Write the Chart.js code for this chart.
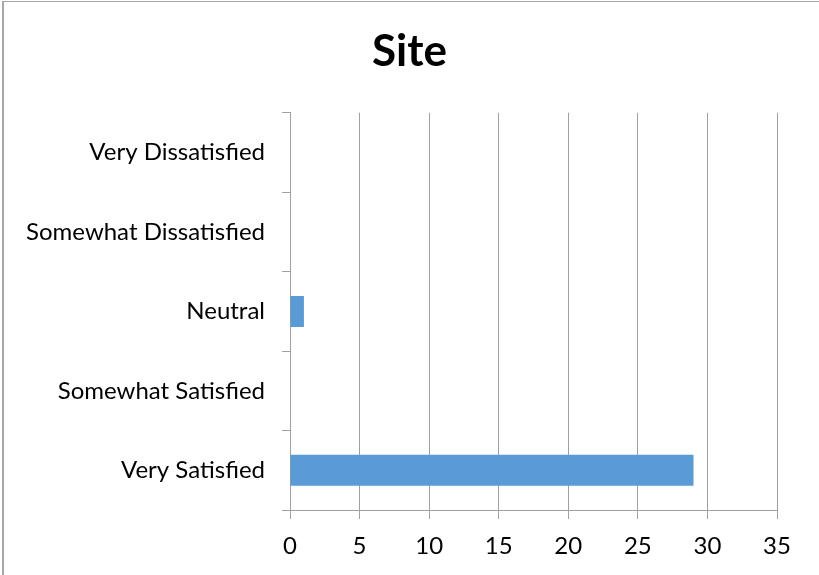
<!DOCTYPE html>
<html>
<head>
<meta charset="utf-8">
<script src="https://cdn.jsdelivr.net/npm/chart.js@4"></script>
<style>
  html, body { margin: 0; padding: 0; background: #fff; }
  #wrap { position: relative; width: 819px; height: 575px; overflow: hidden; }
  #frame { position: absolute; left: 2px; top: 1px; width: 900px; height: 700px;
           border-top: 1px solid #a6a6a6; border-left: 2px solid #a6a6a6; pointer-events: none; }
  canvas { position: absolute; left: 0; top: 0; }
</style>
</head>
<body>
<div id="wrap">
  <canvas id="chart" width="819" height="575"></canvas>
  <div id="frame"></div>
</div>
<script>
// Survey responses for "Site"
const chartTitle = 'Site';
const categories = ['Very Dissatisfied', 'Somewhat Dissatisfied', 'Neutral', 'Somewhat Satisfied', 'Very Satisfied'];
const responses = [0, 0, 1, 0, 29];
const xTicks = [0, 5, 10, 15, 20, 25, 30, 35];

const FONT = 'Lato, "Open Sans", sans-serif';
const GRID = '#a0a0a0';

new Chart(document.getElementById('chart'), {
  type: 'bar',
  data: {
    labels: categories,
    datasets: [{
      data: responses,
      backgroundColor: '#5b9bd5',
      borderWidth: 0,
      categoryPercentage: 1,
      barPercentage: 0.39
    }]
  },
  options: {
    indexAxis: 'y',
    responsive: false,
    animation: false,
    layout: { padding: 0 },
    plugins: {
      legend: { display: false },
      tooltip: { enabled: false },
      title: {
        display: true,
        text: chartTitle,
        color: '#000',
        font: { family: FONT, size: 44, weight: 'bold', lineHeight: 1.2 },
        padding: { top: 25, bottom: 35 }
      }
    },
    scales: {
      x: {
        min: xTicks[0],
        max: xTicks[xTicks.length - 1],
        afterBuildTicks: (scale) => { scale.ticks = xTicks.map(v => ({ value: v })); },
        afterFit: (scale) => { scale.height = 65; scale.paddingRight = 42; },
        grid: { color: GRID, lineWidth: 1, tickLength: 9, drawTicks: true },
        border: { color: GRID, width: 1 },
        ticks: { color: '#000', padding: 13, font: { family: FONT, size: 24 } }
      },
      y: {
        afterFit: (scale) => { scale.width = 290; },
        grid: { offset: true, drawOnChartArea: false, color: GRID, tickLength: 8 },
        border: { color: GRID, width: 1 },
        ticks: { color: '#000', padding: 17, font: { family: FONT, size: 24 } }
      }
    }
  }
});
</script>
</body>
</html>
